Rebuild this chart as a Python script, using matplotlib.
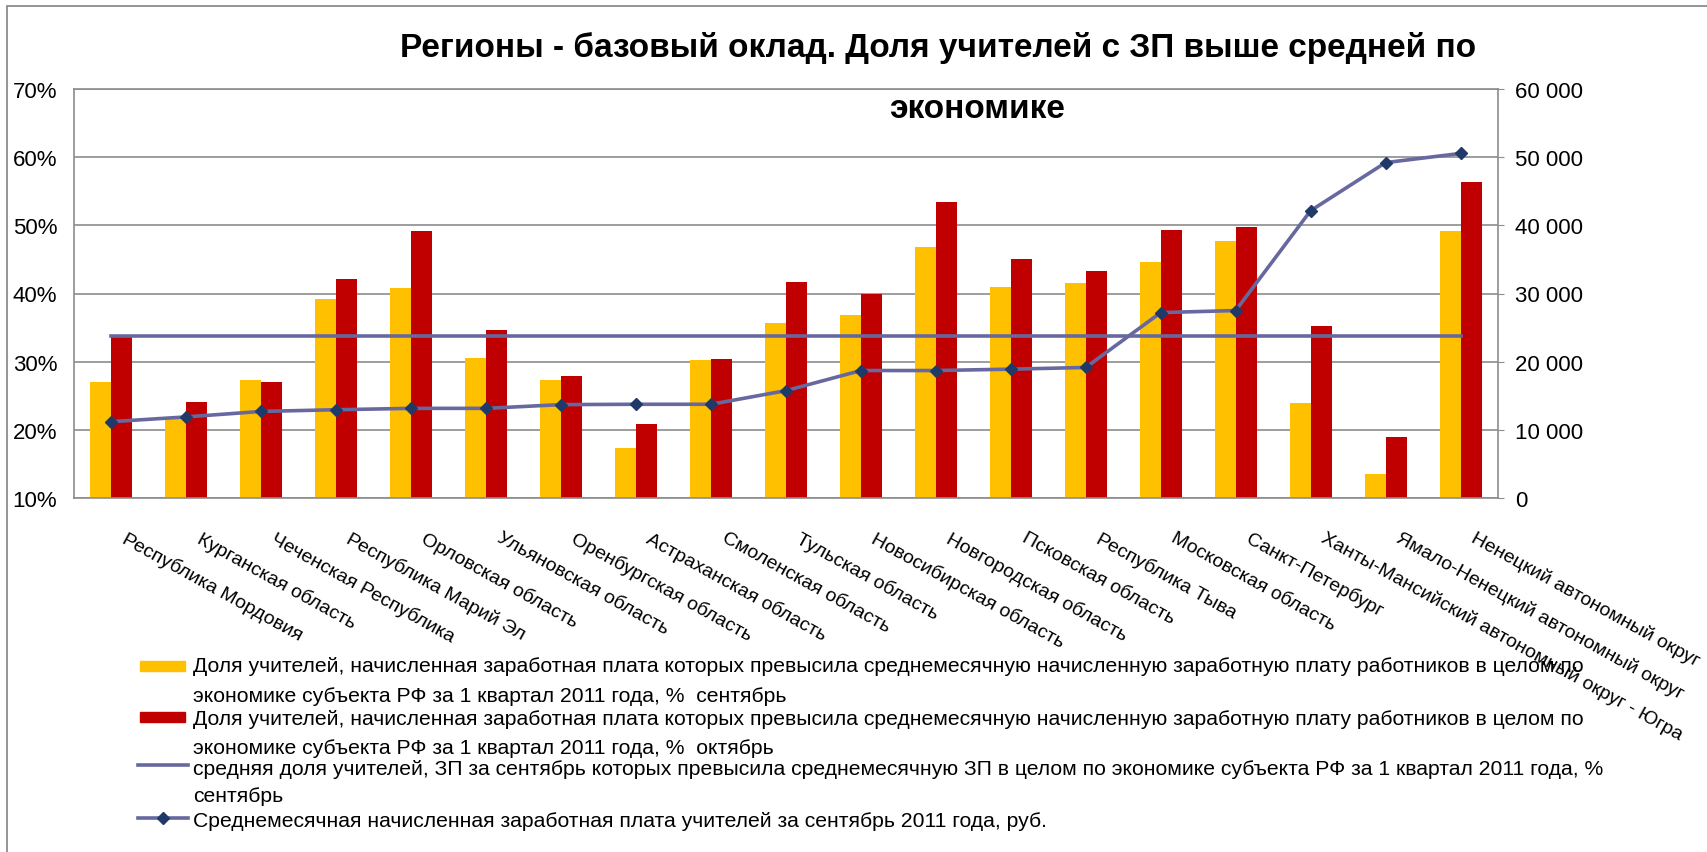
import matplotlib
matplotlib.use("Agg")
import matplotlib.pyplot as plt
from matplotlib.patches import Rectangle
from matplotlib.lines import Line2D
from matplotlib.transforms import ScaledTranslation
import numpy as np

# данные
regions = ["Республика Мордовия", "Курганская область", "Чеченская Республика",
           "Республика Марий Эл", "Орловская область", "Ульяновская область",
           "Оренбургская область", "Астраханская область", "Смоленская область",
           "Тульская область", "Новосибирская область", "Новгородская область",
           "Псковская область", "Республика Тыва", "Московская область",
           "Санкт-Петербург", "Ханты-Мансийский автономный округ - Югра",
           "Ямало-Ненецкий автономный округ", "Ненецкий автономный округ"]
share_sep = [27.0, 21.8, 27.3, 39.2, 40.8, 30.6, 27.3, 17.3, 30.2, 35.6,
             36.8, 46.8, 41.0, 41.5, 44.6, 47.7, 23.9, 13.5, 49.2]
share_oct = [33.7, 24.1, 27.0, 42.1, 49.2, 34.7, 27.9, 20.9, 30.4, 41.7,
             39.9, 53.4, 45.1, 43.3, 49.3, 49.8, 35.2, 19.0, 56.3]
avg_share = [33.7, 33.7, 33.7, 33.7, 33.7, 33.7, 33.7, 33.7, 33.7, 33.7,
             33.7, 33.7, 33.7, 33.7, 33.7, 33.7, 33.7, 33.7, 33.7]
salary_sep = [11200, 11900, 12700, 12950, 13150, 13150, 13700, 13750, 13750, 15750,
              18700, 18700, 18900, 19150, 27200, 27500, 42150, 49200, 50550]
left_ticks = [10, 20, 30, 40, 50, 60, 70]
right_ticks = [0, 10000, 20000, 30000, 40000, 50000, 60000]

legend_texts = [
    ["Доля учителей, начисленная заработная плата которых превысила среднемесячную начисленную заработную плату работников в целом по",
     "экономике субъекта РФ за 1 квартал 2011 года, %  сентябрь"],
    ["Доля учителей, начисленная заработная плата которых превысила среднемесячную начисленную заработную плату работников в целом по",
     "экономике субъекта РФ за 1 квартал 2011 года, %  октябрь"],
    ["средняя доля учителей, ЗП за сентябрь которых превысила среднемесячную ЗП в целом по экономике субъекта РФ за 1 квартал 2011 года, %",
     "сентябрь"],
    ["Среднемесячная начисленная заработная плата учителей за сентябрь 2011 года, руб."],
]

plt.rcParams['font.family'] = ['Liberation Sans', 'DejaVu Sans']

YELLOW = '#FFC000'
RED = '#C00000'
LINE = '#6868A0'
MARK = '#1F3A68'
GRID = '#8C8C8C'

W, H = 1708, 853
fig = plt.figure(figsize=(W / 100, H / 100), dpi=100)

def fx(px):
    return px / W

def fy(py):
    return 1 - py / H

# рамка диаграммы
fig.patches.append(Rectangle((fx(7), fy(900)), 1.2, fy(7) - fy(900), transform=fig.transFigure,
                             fill=False, edgecolor=GRID, lw=1.3))

ax = fig.add_axes([fx(74), fy(499), fx(1498) - fx(74), fy(90) - fy(499)])
x = np.arange(len(regions))
bw = 0.28
ax.bar(x - bw / 2, share_sep, bw, color=YELLOW, zorder=2)
ax.bar(x + bw / 2, share_oct, bw, color=RED, zorder=2)
ax.plot(x, avg_share, color=LINE, lw=2.6, zorder=3)
ax.set_ylim(10, 70)
ax.set_xlim(-0.5, len(regions) - 0.5)
ax.set_yticks(left_ticks)
ax.set_yticklabels([f"{v}%" for v in left_ticks], fontsize=16)
ax.yaxis.grid(True, color=GRID, lw=1.2, zorder=0)
ax.set_axisbelow(True)
ax.tick_params(axis='y', length=0, pad=12)
ax.tick_params(axis='x', length=0, pad=22)
for s in ax.spines.values():
    s.set_color(GRID)
    s.set_linewidth(1.2)

ax.set_xticks(x)
ax.set_xticklabels(regions, rotation=-29, ha='left', va='top', rotation_mode='anchor', fontsize=14)
shift = ScaledTranslation(16 / 100, 0, fig.dpi_scale_trans)
for lab in ax.get_xticklabels():
    lab.set_transform(lab.get_transform() + shift)

ax2 = ax.twinx()
ax2.plot(x, salary_sep, color=LINE, lw=2.6, marker='D', markersize=6.5,
         markerfacecolor=MARK, markeredgecolor=MARK, zorder=4)
ax2.set_ylim(0, 60000)
ax2.set_yticks(right_ticks)
ax2.set_yticklabels([f"{v:,}".replace(",", " ") for v in right_ticks], fontsize=16)
ax2.tick_params(axis='y', length=4, color=GRID, pad=8)
for s in ax2.spines.values():
    s.set_visible(False)

# заголовок
fig.text(fx(938), fy(48), "Регионы - базовый оклад. Доля учителей с ЗП выше средней по",
         ha='center', va='center', fontsize=24, fontweight='bold')
fig.text(fx(977), fy(109), "экономике", ha='center', va='center',
         fontsize=24, fontweight='bold')

# легенда
text_y = [[667, 696], [720, 749], [770, 797], [822]]
handle_y = [667, 718, 766, 819]
for i, lines in enumerate(legend_texts):
    hy = handle_y[i]
    if i < 2:
        col = YELLOW if i == 0 else RED
        fig.patches.append(Rectangle((fx(140), fy(hy + 5)), fx(185) - fx(140), fy(hy - 5) - fy(hy + 5),
                                     transform=fig.transFigure, color=col))
    else:
        ln = Line2D([fx(138), fx(188)], [fy(hy), fy(hy)], transform=fig.transFigure,
                    color=LINE, lw=2.6)
        fig.lines.append(ln)
        if i == 3:
            fig.lines.append(Line2D([fx(163)], [fy(hy)], transform=fig.transFigure, marker='D',
                                    markersize=6, color=MARK, lw=0))
    for j, t in enumerate(lines):
        fig.text(fx(193), fy(text_y[i][j]), t, ha='left', va='center', fontsize=15.2)

fig.savefig("out.png", dpi=100)
